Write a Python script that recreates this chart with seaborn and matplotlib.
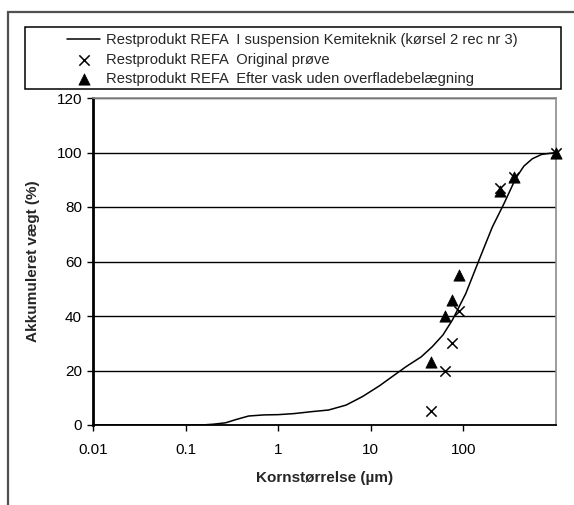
import matplotlib
matplotlib.use("Agg")
import matplotlib.pyplot as plt
import matplotlib.patches as mpatches
import matplotlib.ticker as mticker
import seaborn as sns
import pandas as pd

# Laser diffraction curve (suspension, Kemiteknik run 2 rec nr 3)
curve_size = [0.01, 0.15, 0.2, 0.27, 0.35, 0.48, 0.7, 1.0, 1.5, 2.3, 3.5, 5.4,
              8.1, 12.3, 24, 35, 46, 60, 76, 106, 147, 205, 274, 367, 450, 555, 700, 1000]
curve_pct = [0, 0, 0.3, 0.8, 2.0, 3.3, 3.7, 3.8, 4.2, 4.9, 5.5, 7.3,
             10.4, 14.3, 21.4, 25.0, 28.7, 33.0, 38.5, 48.2, 60.4, 72.6, 81.2, 90.5, 95.0,
             97.7, 99.3, 100]

# Sieve analyses
sieve_size = [45, 63, 75, 90, 250, 355, 1000]
original_pct = [5, 20, 30, 42, 87, 91, 100]
washed_pct = [23, 40, 46, 55, 86, 91, 100]

x_ticks = [0.01, 0.1, 1, 10, 100]
x_ticklabels = ["0.01", "0.1", "1", "10", "100"]
y_ticks = [0, 20, 40, 60, 80, 100, 120]

label_curve = "Restprodukt REFA  I suspension Kemiteknik (kørsel 2 rec nr 3)"
label_orig = "Restprodukt REFA  Original prøve"
label_wash = "Restprodukt REFA  Efter vask uden overfladebelægning"

sns.set_theme(style="white")
plt.rcParams["font.family"] = ["Liberation Sans", "DejaVu Sans"]
plt.rcParams["font.size"] = 10

W, H = 574, 505
fig = plt.figure(figsize=(W / 100, H / 100), dpi=100)
fig.patch.set_facecolor("white")

def fx(px):
    return px / W

def fy(py):
    return 1 - py / H

ax = fig.add_axes([fx(93), fy(425), fx(556) - fx(93), fy(98) - fy(425)])

df_curve = pd.DataFrame({"size": curve_size, "pct": curve_pct})
df_sieve = pd.DataFrame({"size": sieve_size, "orig": original_pct, "wash": washed_pct})

sns.lineplot(data=df_curve, x="size", y="pct", ax=ax, color="black", lw=1.1,
             label=label_curve, sort=False, zorder=3)
sns.scatterplot(data=df_sieve, x="size", y="orig", ax=ax, marker="x", color="black",
                s=55, linewidth=1.1, label=label_orig, zorder=4, clip_on=False)
sns.scatterplot(data=df_sieve, x="size", y="wash", ax=ax, marker="^", color="black",
                edgecolor="black", s=66, linewidth=0.5, label=label_wash, zorder=5,
                clip_on=False)

ax.set_xscale("log")
ax.set_xlim(0.01, 1000)
ax.set_ylim(0, 120)
ax.set_xticks(x_ticks)
ax.set_xticklabels(x_ticklabels)
ax.xaxis.set_minor_locator(mticker.NullLocator())
ax.set_yticks(y_ticks)

ax.yaxis.grid(True, color="black", lw=1)
ax.xaxis.grid(False)
ax.set_axisbelow(True)

ax.spines["left"].set_color("black")
ax.spines["left"].set_linewidth(2)
ax.spines["bottom"].set_color("black")
ax.spines["bottom"].set_linewidth(1.3)
for s in ("top", "right"):
    ax.spines[s].set_color("#8c8c8c")
    ax.spines[s].set_linewidth(1.2)

ax.tick_params(axis="both", direction="out", length=4, width=1, color="black",
               labelsize=11, colors="black", pad=4)
ax.tick_params(axis="x", pad=9)
ax.tick_params(left=True, bottom=True)

ax.set_xlabel("Kornstørrelse (µm)", fontsize=11, fontweight="bold", labelpad=10)
ax.set_ylabel("Akkumuleret vægt (%)", fontsize=11, fontweight="bold", labelpad=12)

# Legend, drawn in its own box above the plot area
handles, labels = ax.get_legend_handles_labels()
if ax.get_legend() is not None:
    ax.get_legend().remove()
fig.legend(handles, labels, loc="upper left", bbox_to_anchor=(fx(67), fy(33)),
           frameon=False, borderpad=0, borderaxespad=0, fontsize=10.6,
           handlelength=2.25, handletextpad=0.38, labelspacing=0.38)
fig.add_artist(mpatches.Rectangle((fx(25), fy(89)), fx(561) - fx(25), fy(27) - fy(89),
                                  transform=fig.transFigure, fill=False,
                                  edgecolor="black", lw=1.1))

# Outer chart frame (continues past the right and bottom edges)
fig.add_artist(mpatches.Rectangle((fx(8), -0.2), 1.3, fy(12) + 0.2,
                                  transform=fig.transFigure, fill=False,
                                  edgecolor="#505050", lw=1.6, clip_on=False))

fig.savefig("out.png", dpi=100)
